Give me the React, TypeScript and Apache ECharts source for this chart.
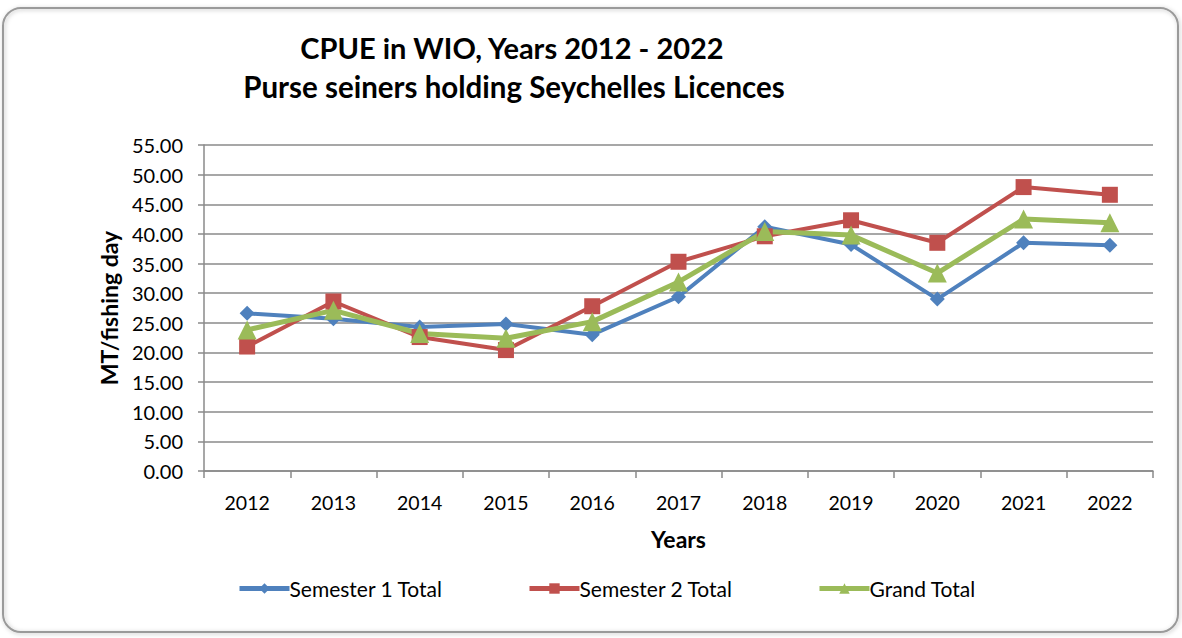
import React, { useEffect, useRef } from "react";
import * as echarts from "echarts";

const years = ["2012", "2013", "2014", "2015", "2016", "2017", "2018", "2019", "2020", "2021", "2022"];
const semester1 = [26.6, 25.7, 24.3, 24.8, 23.0, 29.4, 41.2, 38.2, 29.0, 38.5, 38.1];
const semester2 = [21.0, 28.6, 22.6, 20.4, 27.8, 35.3, 39.6, 42.3, 38.5, 47.9, 46.6];
const grandTotal = [23.8, 27.1, 23.2, 22.4, 25.2, 31.9, 40.4, 39.8, 33.4, 42.5, 41.9];
const titleLines = ["CPUE in WIO, Years 2012 - 2022", "Purse seiners holding Seychelles Licences"];

const FONT = "Lato, 'Liberation Sans', sans-serif";

export default function App() {
  const ref = useRef<HTMLDivElement>(null);
  useEffect(() => {
    if (!ref.current) return;
    const chart = echarts.init(ref.current, undefined, { renderer: "svg" });
    const mk = (name: string, data: number[], color: string, symbol: string, size: number, width: number) => ({
      name,
      type: "line",
      data,
      symbol,
      symbolSize: size,
      showAllSymbol: true,
      lineStyle: { color, width },
      itemStyle: { color },
    });
    chart.setOption({
      animation: false,
      backgroundColor: "#ffffff",
      textStyle: { fontFamily: FONT },
      title: [
        { text: titleLines[0], left: 507, top: 28, textAlign: "center", textStyle: { fontSize: 29, fontWeight: "bold", color: "#000", fontFamily: FONT } },
        { text: titleLines[1], left: 509, top: 66, textAlign: "center", textStyle: { fontSize: 29.5, fontWeight: "bold", color: "#000", fontFamily: FONT } },
      ],
      graphic: [
        {
          type: "rect",
          shape: { x: 3, y: 8, width: 1175, height: 624, r: 18 },
          style: { fill: "none", stroke: "#9a9a9a", lineWidth: 2, shadowBlur: 4, shadowColor: "rgba(0,0,0,0.25)", shadowOffsetX: 1, shadowOffsetY: 1 },
          silent: true,
          z: -1,
        },
      ],
      legend: {
        left: 237,
        top: 578,
        padding: 0,
        itemWidth: 50,
        itemHeight: 13,
        itemGap: 84,
        lineStyle: { width: 5 },
        textStyle: { fontSize: 21, color: "#000", fontFamily: FONT, padding: [0, 0, 0, -5] },
        data: ["Semester 1 Total", "Semester 2 Total", "Grand Total"],
      },
      grid: { left: 204, right: 29, top: 145, bottom: 167 },
      xAxis: {
        type: "category",
        data: years,
        boundaryGap: true,
        name: "Years",
        nameLocation: "middle",
        nameGap: 56,
        nameTextStyle: { fontSize: 23, fontWeight: "bold", color: "#000", fontFamily: FONT },
        axisLine: { lineStyle: { color: "#8a8a8a", width: 1.5 } },
        axisTick: { show: true, length: 7, lineStyle: { color: "#8a8a8a", width: 1.5 } },
        axisLabel: { fontSize: 19.5, color: "#000", margin: 21, fontFamily: FONT },
        splitLine: { show: false },
      },
      yAxis: {
        type: "value",
        min: 0,
        max: 55,
        interval: 5,
        name: "MT/fishing day",
        nameLocation: "middle",
        nameGap: 83,
        nameTextStyle: { fontSize: 23, fontWeight: "bold", color: "#000", fontFamily: FONT },
        axisLine: { show: true, lineStyle: { color: "#8a8a8a", width: 1.5 } },
        axisTick: { show: true, length: 6, inside: false, lineStyle: { color: "#8a8a8a", width: 1.5 } },
        axisLabel: { fontSize: 20, color: "#000", margin: 21, fontFamily: FONT, formatter: (v: number) => v.toFixed(2) },
        splitLine: { show: true, lineStyle: { color: "#8a8a8a", width: 1.5 } },
      },
      series: [
        mk("Semester 1 Total", semester1, "#4F81BD", "diamond", 15, 4),
        mk("Semester 2 Total", semester2, "#C0504D", "rect", 16, 4),
        mk("Grand Total", grandTotal, "#9BBB59", "triangle", 19, 5),
      ],
    });
    return () => chart.dispose();
  }, []);
  return <div ref={ref} style={{ position: "fixed", left: 0, top: 0, width: 1182, height: 638 }} />;
}
